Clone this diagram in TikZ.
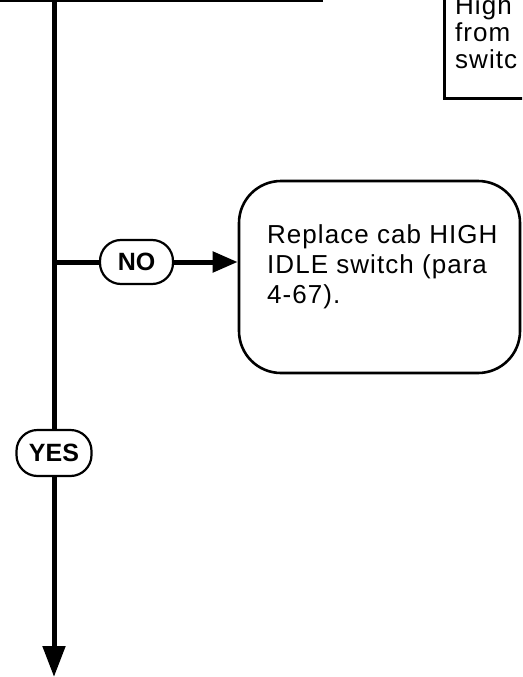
\documentclass[tikz,border=0pt]{standalone}
\usepackage{fontspec}
\setmainfont{Liberation Sans}
\newfontfamily\boxfont[LetterSpace=4]{Liberation Sans}
\usetikzlibrary{arrows.meta,positioning}

\begin{document}
\begin{tikzpicture}[x=1pt,y=-1pt,
  flow/.style={line width=5pt},
  frame/.style={draw,line width=2.6pt,inner sep=0pt},
  action/.style={frame,rounded corners=42pt},
  answer/.style={draw,line width=2.2pt,rounded corners=21pt,inner sep=0pt,font=\bfseries\fontsize{25}{28}\selectfont},
  every node/.style={font=\boxfont\fontsize{26}{30}\selectfont,align=left,inner sep=0pt}]
\useasboundingbox (0,0) rectangle (522,677); \clip (0,0) rectangle (522,677);
\node[frame,minimum width=360pt,minimum height=120pt,anchor=south west] (check) at (-40,2) {};
\node[frame,minimum width=120pt,minimum height=160pt,anchor=south west] (highbox) at (443,100) {};
\node[anchor=base west,font=\boxfont\fontsize{26}{27}\selectfont] (hightxt) at (455,68) {High\\from\\switc};
\node[action,minimum width=281pt,minimum height=192pt] (replace) at (379.5,277) {};
\node[anchor=base west] (replacetxt) at (267,303) {Replace cab HIGH\\IDLE switch (para\\4-67).};
\node[answer,minimum width=73pt,minimum height=44pt] (no) at (136.5,262) {NO};
\node[answer,minimum width=75pt,minimum height=46pt] (yes) at (54,453) {YES};
\coordinate (fork) at (54,262); \coordinate (out) at (54,677);
\draw[flow] (check.south -| yes) -- (yes.north); \draw[flow] (fork) -- (no.west);
\draw[flow,-{Triangle[length=25pt,width=20pt]}] (no.east) -- (no.east -| replace.west);
\draw[flow,-{Triangle[length=31pt,width=22pt]}] (yes.south) -- (out);
\end{tikzpicture}
\end{document}
